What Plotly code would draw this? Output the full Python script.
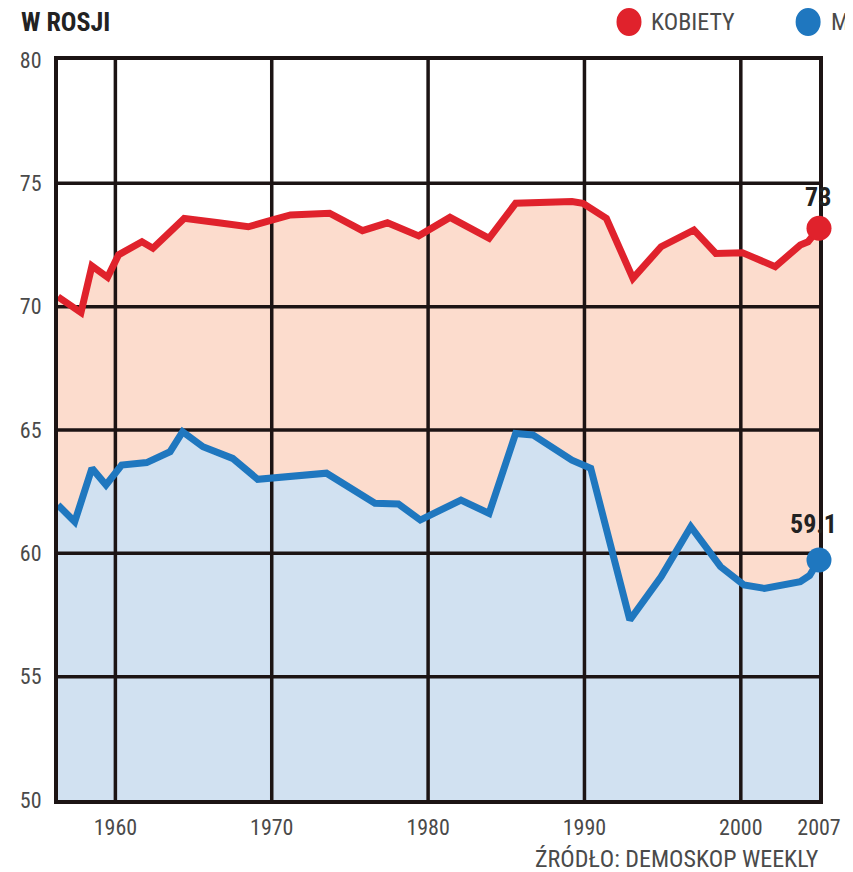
import plotly.graph_objects as go

# ---- data ----
women_years = [1956.33, 1957.8, 1958.5, 1959.5, 1960.2, 1961.7, 1962.4, 1964.4, 1966.6, 1968.5,
               1970.0, 1971.2, 1973.7, 1975.8, 1977.4, 1979.4, 1981.4, 1983.9, 1985.6, 1989.2,
               1989.9, 1991.4, 1993.1, 1994.9, 1997.0, 1998.4, 2000.1, 2002.2, 2003.8, 2004.3, 2005.0]
women_vals = [70.4, 69.76, 71.65, 71.19, 72.1, 72.63, 72.37, 73.58, 73.4, 73.24,
              73.51, 73.72, 73.79, 73.08, 73.40, 72.87, 73.62, 72.77, 74.19, 74.26,
              74.19, 73.58, 71.15, 72.43, 73.11, 72.16, 72.19, 71.62, 72.5, 72.63, 73.18]

men_years = [1956.33, 1957.4, 1958.5, 1959.4, 1960.4, 1962.0, 1963.5, 1964.3, 1965.6, 1967.5,
             1969.1, 1973.5, 1976.6, 1978.1, 1979.5, 1982.1, 1983.9, 1985.6, 1986.7, 1989.2,
             1990.4, 1992.9, 1994.9, 1996.8, 1998.7, 2000.2, 2001.5, 2003.8, 2004.4, 2005.0]
men_vals = [61.96, 61.28, 63.45, 62.77, 63.58, 63.68, 64.12, 64.93, 64.32, 63.85,
            63.0, 63.25, 62.03, 62.0, 61.35, 62.16, 61.62, 64.86, 64.8, 63.78,
            63.45, 57.3, 59.05, 61.08, 59.46, 58.72, 58.58, 58.85, 59.1, 59.73]

women_label = "73"
men_label = "59.1"

x_ticks = [1960, 1970, 1980, 1990, 2000, 2005.0]
x_ticktext = ["1960", "1970", "1980", "1990", "2000", "2007"]
y_ticks = [50, 55, 60, 65, 70, 75, 80]

x_range = [1956.33, 2005.0]
y_range = [50, 80]

# ---- styles ----
RED = "#e0222c"
BLUE = "#1f77bf"
PINK_FILL = "#fcdccd"
BLUE_FILL = "#d1e1f1"
GRID = "#1c1414"
TXT = "#4a4a4a"
FONT = "Liberation Sans Narrow, Roboto Condensed, Liberation Sans, Arial"

OFF = 8  # page body margin
W, H = 853 - OFF, 872 - OFF
L, T = 50 - OFF, 60 - OFF
R = W - (819 - OFF)
B = H - (800 - OFF)
pw, ph = W - L - R, H - T - B


def px(xp):
    # reference pixel -> paper
    return (xp - OFF - L) / pw


def py(yp):
    return (H - B - (yp - OFF)) / ph


fig = go.Figure()

# fills
fig.add_trace(go.Scatter(x=women_years, y=women_vals, fill="tozeroy", fillcolor=PINK_FILL,
                         mode="none", hoverinfo="skip", showlegend=False))
fig.add_trace(go.Scatter(x=men_years, y=men_vals, fill="tozeroy", fillcolor=BLUE_FILL,
                         mode="none", hoverinfo="skip", showlegend=False))

# grid lines drawn above fills but below the data lines
gx, gy = [], []
for v in x_ticks:
    if x_range[0] < v < x_range[1]:
        gx += [v, v, None]
        gy += [y_range[0], y_range[1], None]
for v in y_ticks:
    if y_range[0] < v < y_range[1]:
        gx += [x_range[0], x_range[1], None]
        gy += [v, v, None]
fig.add_trace(go.Scatter(x=gx, y=gy, mode="lines", line=dict(color=GRID, width=3.5),
                         hoverinfo="skip", showlegend=False))

# data lines
fig.add_trace(go.Scatter(x=women_years, y=women_vals, mode="lines",
                         line=dict(color=RED, width=7), showlegend=False))
fig.add_trace(go.Scatter(x=men_years, y=men_vals, mode="lines",
                         line=dict(color=BLUE, width=7), showlegend=False))

# end markers
fig.add_trace(go.Scatter(x=[women_years[-1]], y=[women_vals[-1]], mode="markers",
                         marker=dict(color=RED, size=25), cliponaxis=False, showlegend=False))
fig.add_trace(go.Scatter(x=[men_years[-1]], y=[men_vals[-1]], mode="markers",
                         marker=dict(color=BLUE, size=25), cliponaxis=False, showlegend=False))

annotations = [
    dict(x=women_years[-1], y=women_vals[-1], xref="x", yref="y", text=f"<b>{women_label}</b>",
         showarrow=False, yshift=31, xshift=-1, font=dict(family=FONT, size=26, color="#222")),
    dict(x=men_years[-1], y=men_vals[-1], xref="x", yref="y", text=f"<b>{men_label}</b>",
         showarrow=False, yshift=36, xshift=-6, font=dict(family=FONT, size=26, color="#222")),
    dict(x=px(11), y=py(22), xref="paper", yref="paper", xanchor="left", yanchor="middle",
         text="<b>W ROSJI</b>", showarrow=False, font=dict(family=FONT, size=26, color="#222")),
    dict(x=px(647), y=py(22), xref="paper", yref="paper", xanchor="left", yanchor="middle",
         text="KOBIETY", showarrow=False, font=dict(family=FONT, size=24, color=TXT)),
    dict(x=px(829), y=py(22), xref="paper", yref="paper", xanchor="left", yanchor="middle",
         text="MĘŻCZYŹNI", showarrow=False, font=dict(family=FONT, size=24, color=TXT)),
    dict(x=px(821), y=py(859), xref="paper", yref="paper", xanchor="right", yanchor="middle",
         text="ŹRÓDŁO: DEMOSKOP WEEKLY", showarrow=False,
         font=dict(family=FONT, size=24, color=TXT)),
]

shapes = [
    dict(type="circle", xref="paper", yref="paper", xsizemode="pixel", ysizemode="pixel",
         xanchor=px(627), yanchor=py(22), x0=-12.5, x1=12.5, y0=-14, y1=14,
         fillcolor=RED, line=dict(width=0)),
    dict(type="circle", xref="paper", yref="paper", xsizemode="pixel", ysizemode="pixel",
         xanchor=px(808), yanchor=py(22), x0=-12.5, x1=12.5, y0=-14, y1=14,
         fillcolor=BLUE, line=dict(width=0)),
]

fig.update_layout(
    width=W, height=H,
    margin=dict(l=L, r=R, t=T, b=B, pad=0),
    paper_bgcolor="white", plot_bgcolor="white",
    annotations=annotations, shapes=shapes,
    xaxis=dict(range=x_range, tickvals=x_ticks, ticktext=x_ticktext, showgrid=False,
               zeroline=False, showline=True, linecolor=GRID, linewidth=4, mirror=True,
               ticks="", ticklabelstandoff=5, layer="below traces",
               tickfont=dict(family=FONT, size=22, color=TXT)),
    yaxis=dict(range=y_range, tickvals=y_ticks, showgrid=False, zeroline=False,
               showline=True, linecolor=GRID, linewidth=4, mirror=True,
               ticks="", ticklabelstandoff=8, layer="below traces",
               tickfont=dict(family=FONT, size=22, color=TXT)),
    showlegend=False,
)

fig.write_html("out.html")
